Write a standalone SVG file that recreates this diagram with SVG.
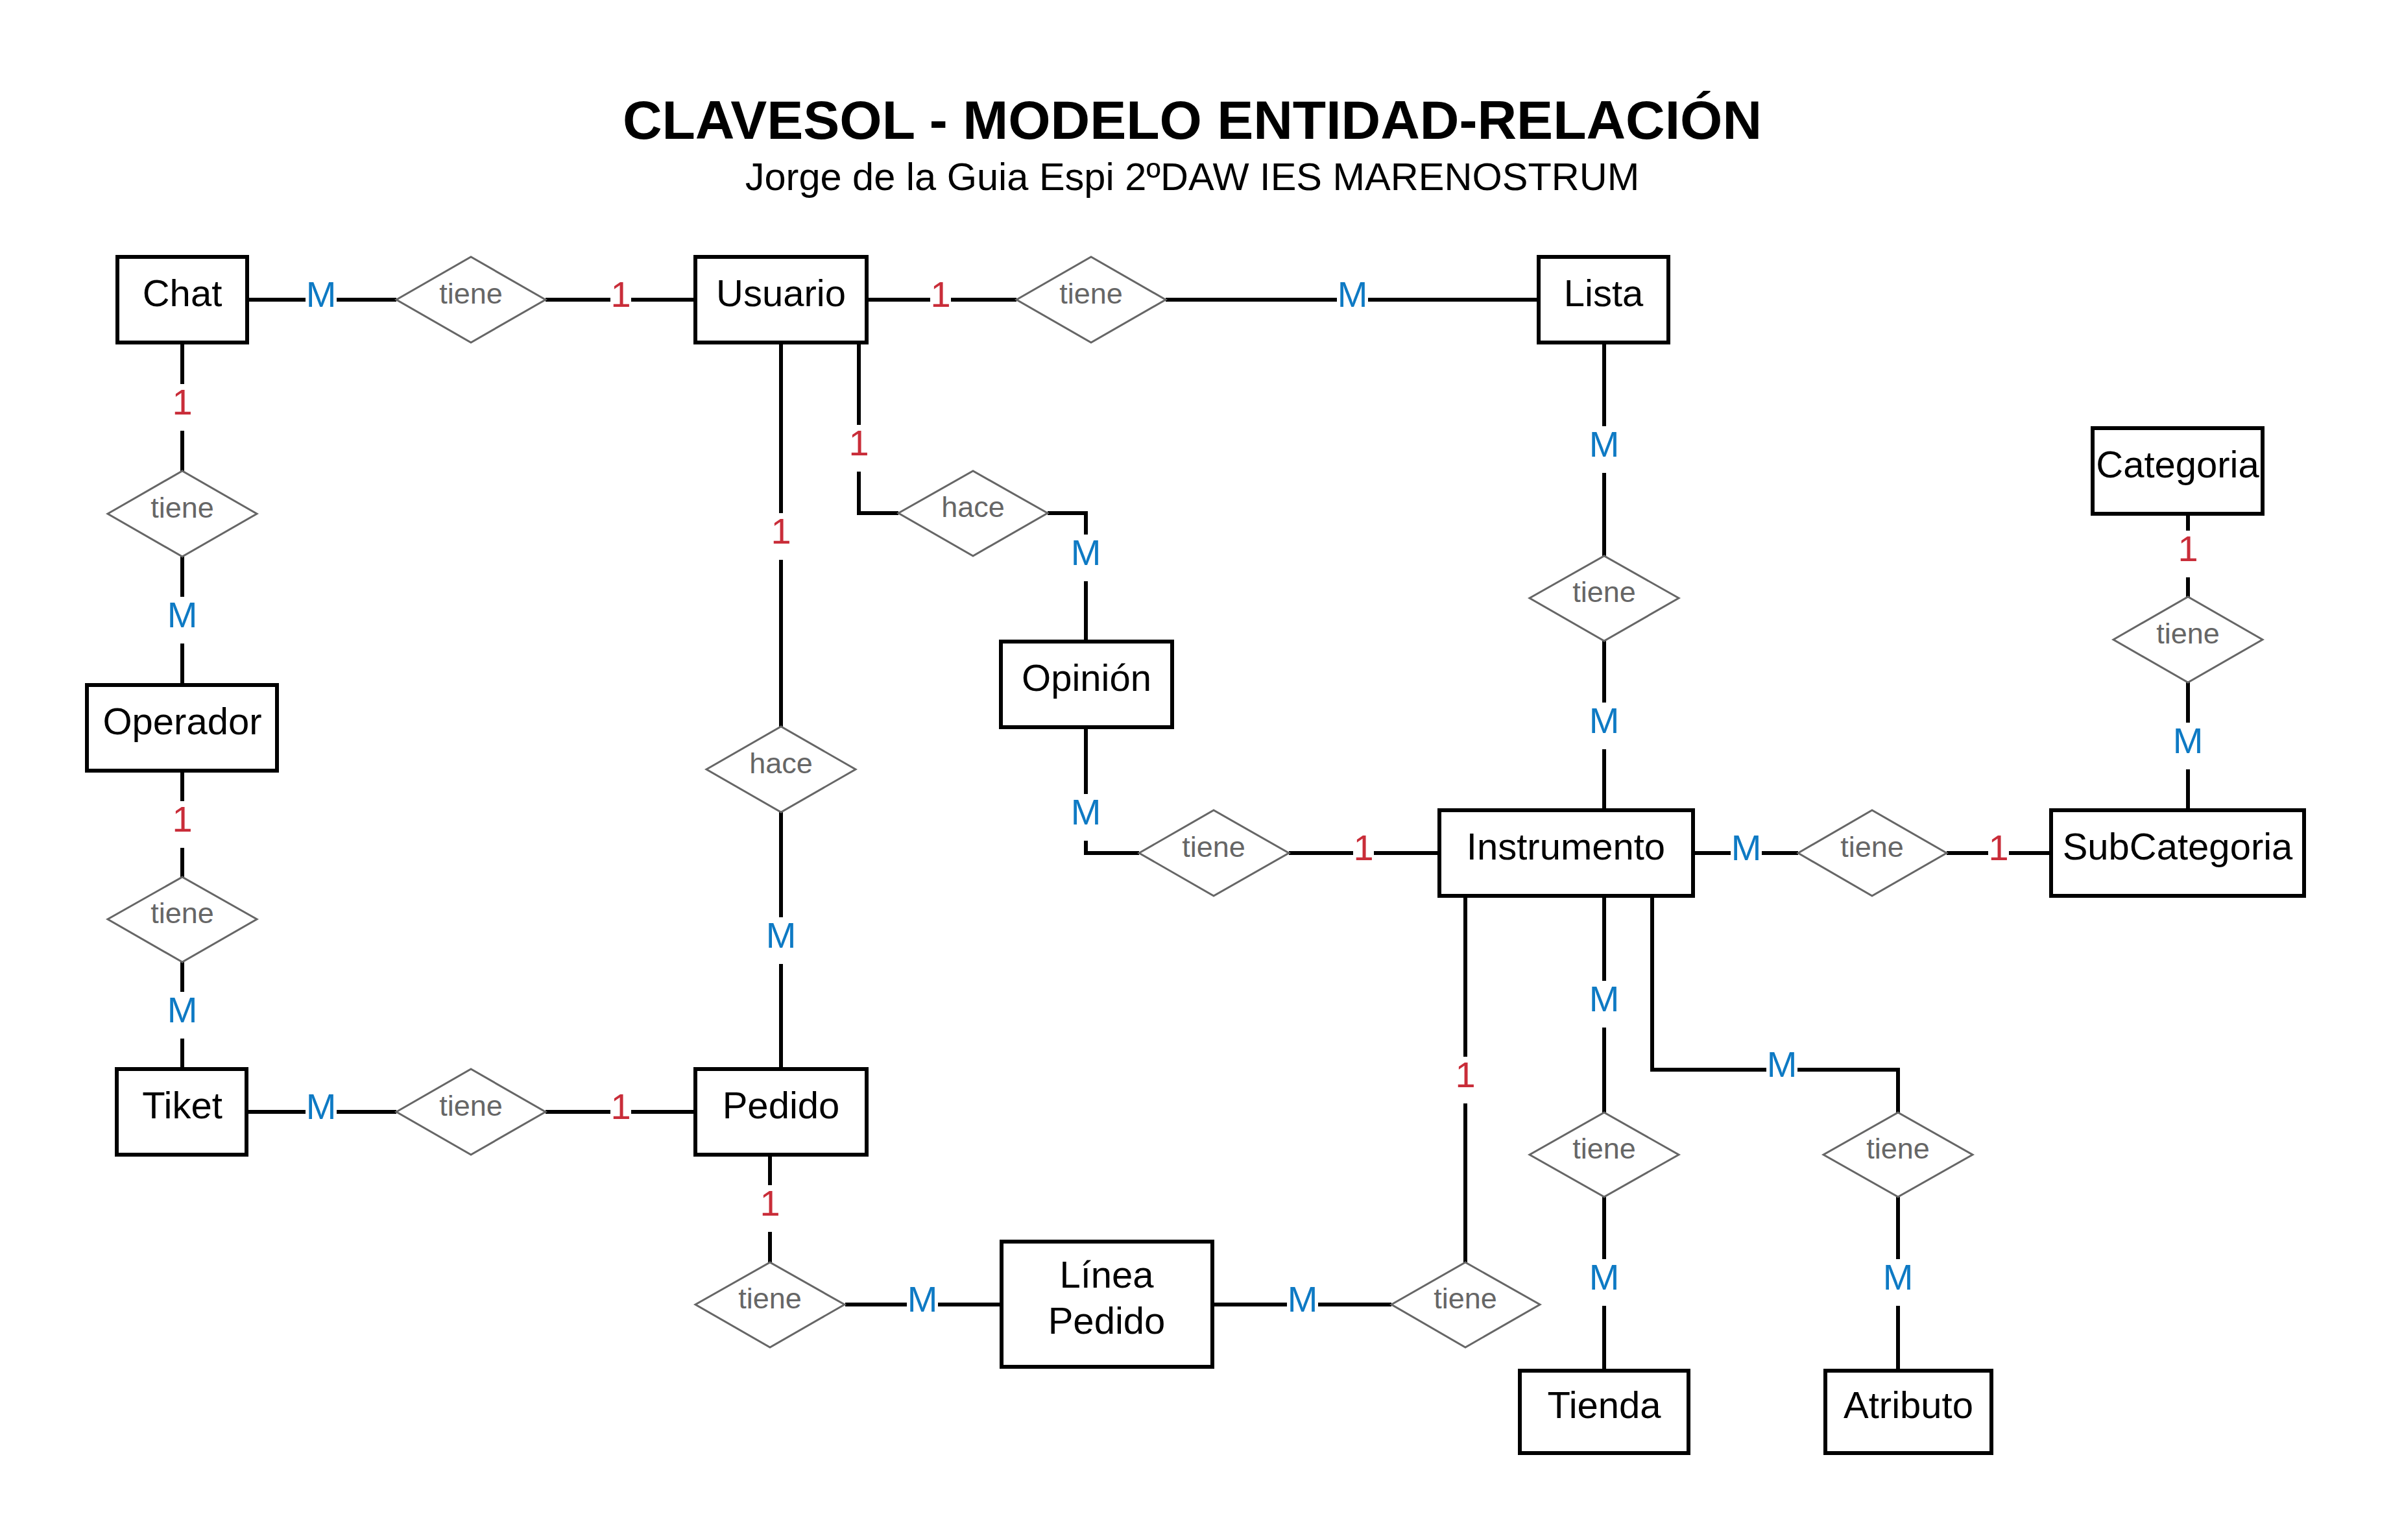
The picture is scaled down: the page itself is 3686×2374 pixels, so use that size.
<svg xmlns="http://www.w3.org/2000/svg" width="3686" height="2374" viewBox="0 0 3686 2374">
<style>
.bg{fill:#ffffff}
.ent{fill:#ffffff;stroke:#000000;stroke-width:6}
.rel{fill:#ffffff;stroke:#666666;stroke-width:3}
.et{font-family:"Liberation Sans",Arial,sans-serif;font-size:58px;fill:#000000;text-anchor:middle}
.rt{font-family:"Liberation Sans",Arial,sans-serif;font-size:45px;fill:#666666;text-anchor:middle}
.ln{fill:none;stroke:#000000;stroke-width:6;stroke-linejoin:miter}
.lb{fill:#ffffff}
.m{font-family:"Liberation Sans",Arial,sans-serif;font-size:56px;fill:#0e7ac4;text-anchor:middle}
.o{font-family:"Liberation Sans",Arial,sans-serif;font-size:56px;fill:#c92d39;text-anchor:middle}
.title{font-family:"Liberation Sans",Arial,sans-serif;font-size:84px;font-weight:bold;fill:#000000;text-anchor:middle}
.sub{font-family:"Liberation Sans",Arial,sans-serif;font-size:59.5px;fill:#000000;text-anchor:middle}
</style>
<rect class="bg" x="0" y="0" width="3686" height="2374"/>
<g id="title">
<text class="title" x="1838" y="214">CLAVESOL - MODELO ENTIDAD-RELACIÓN</text>
<text class="sub" x="1838" y="293">Jorge de la Guia Espi 2ºDAW IES MARENOSTRUM</text>
</g>
<g id="connectors">
<path class="ln" d="M381 462H611"/>
<path class="ln" d="M841 462H1072"/>
<path class="ln" d="M1336 462H1567"/>
<path class="ln" d="M1797 462H2372"/>
<path class="ln" d="M281 528V726"/>
<path class="ln" d="M281 858V1056"/>
<path class="ln" d="M281 1188V1352"/>
<path class="ln" d="M281 1483V1648"/>
<path class="ln" d="M380 1714H611"/>
<path class="ln" d="M841 1714H1072"/>
<path class="ln" d="M1204 528V1120"/>
<path class="ln" d="M1204 1252V1648"/>
<path class="ln" d="M1324 528V791H1385"/>
<path class="ln" d="M1615 791H1674V989"/>
<path class="ln" d="M1674 1121V1315H1756"/>
<path class="ln" d="M1987 1315H2219"/>
<path class="ln" d="M2473 528V857"/>
<path class="ln" d="M2473 988V1249"/>
<path class="ln" d="M3373 792V920"/>
<path class="ln" d="M3373 1052V1249"/>
<path class="ln" d="M2610 1315H2772"/>
<path class="ln" d="M3001 1315H3162"/>
<path class="ln" d="M2473 1381V1715"/>
<path class="ln" d="M2473 1845V2113"/>
<path class="ln" d="M2547 1381V1649H2926V1715"/>
<path class="ln" d="M2926 1845V2113"/>
<path class="ln" d="M2259 1381V1946"/>
<path class="ln" d="M1869 2011H2145"/>
<path class="ln" d="M1187 1780V1946"/>
<path class="ln" d="M1303 2011H1544"/>
<g id="labels">
<rect class="lb" x="471" y="426" width="48" height="72"/><text class="m" x="495" y="473">M</text>
<rect class="lb" x="941" y="426" width="32" height="72"/><text class="o" x="957" y="473">1</text>
<rect class="lb" x="1434" y="426" width="32" height="72"/><text class="o" x="1450" y="473">1</text>
<rect class="lb" x="2061" y="426" width="48" height="72"/><text class="m" x="2085" y="473">M</text>
<rect class="lb" x="265" y="592" width="32" height="72"/><text class="o" x="281" y="639">1</text>
<rect class="lb" x="257" y="920" width="48" height="72"/><text class="m" x="281" y="967">M</text>
<rect class="lb" x="265" y="1235" width="32" height="72"/><text class="o" x="281" y="1282">1</text>
<rect class="lb" x="257" y="1529" width="48" height="72"/><text class="m" x="281" y="1576">M</text>
<rect class="lb" x="471" y="1678" width="48" height="72"/><text class="m" x="495" y="1725">M</text>
<rect class="lb" x="941" y="1678" width="32" height="72"/><text class="o" x="957" y="1725">1</text>
<rect class="lb" x="1188" y="791" width="32" height="72"/><text class="o" x="1204" y="838">1</text>
<rect class="lb" x="1180" y="1414" width="48" height="72"/><text class="m" x="1204" y="1461">M</text>
<rect class="lb" x="1308" y="655" width="32" height="72"/><text class="o" x="1324" y="702">1</text>
<rect class="lb" x="1650" y="824" width="48" height="72"/><text class="m" x="1674" y="871">M</text>
<rect class="lb" x="1650" y="1224" width="48" height="72"/><text class="m" x="1674" y="1271">M</text>
<rect class="lb" x="2086" y="1279" width="32" height="72"/><text class="o" x="2102" y="1326">1</text>
<rect class="lb" x="2449" y="657" width="48" height="72"/><text class="m" x="2473" y="704">M</text>
<rect class="lb" x="2449" y="1083" width="48" height="72"/><text class="m" x="2473" y="1130">M</text>
<rect class="lb" x="3357" y="818" width="32" height="72"/><text class="o" x="3373" y="865">1</text>
<rect class="lb" x="3349" y="1114" width="48" height="72"/><text class="m" x="3373" y="1161">M</text>
<rect class="lb" x="2668" y="1279" width="48" height="72"/><text class="m" x="2692" y="1326">M</text>
<rect class="lb" x="3065" y="1279" width="32" height="72"/><text class="o" x="3081" y="1326">1</text>
<rect class="lb" x="2449" y="1512" width="48" height="72"/><text class="m" x="2473" y="1559">M</text>
<rect class="lb" x="2449" y="1941" width="48" height="72"/><text class="m" x="2473" y="1988">M</text>
<rect class="lb" x="2723" y="1613" width="48" height="72"/><text class="m" x="2747" y="1660">M</text>
<rect class="lb" x="2902" y="1941" width="48" height="72"/><text class="m" x="2926" y="1988">M</text>
<rect class="lb" x="2243" y="1629" width="32" height="72"/><text class="o" x="2259" y="1676">1</text>
<rect class="lb" x="1984" y="1975" width="48" height="72"/><text class="m" x="2008" y="2022">M</text>
<rect class="lb" x="1171" y="1827" width="32" height="72"/><text class="o" x="1187" y="1874">1</text>
<rect class="lb" x="1398" y="1975" width="48" height="72"/><text class="m" x="1422" y="2022">M</text>
</g>
</g>
<g id="node-chat"><rect class="ent" x="181" y="396" width="200" height="132"/><text class="et" x="281" y="472">Chat</text></g>
<g id="node-usuario"><rect class="ent" x="1072" y="396" width="264" height="132"/><text class="et" x="1204" y="472">Usuario</text></g>
<g id="node-lista"><rect class="ent" x="2372" y="396" width="200" height="132"/><text class="et" x="2472" y="472">Lista</text></g>
<g id="node-categoria"><rect class="ent" x="3226" y="660" width="262" height="132"/><text class="et" x="3357" y="736">Categoria</text></g>
<g id="node-operador"><rect class="ent" x="134" y="1056" width="293" height="132"/><text class="et" x="281" y="1132">Operador</text></g>
<g id="node-opinion"><rect class="ent" x="1543" y="989" width="264" height="132"/><text class="et" x="1675" y="1065">Opinión</text></g>
<g id="node-instrumento"><rect class="ent" x="2219" y="1249" width="391" height="132"/><text class="et" x="2414" y="1325">Instrumento</text></g>
<g id="node-subcategoria"><rect class="ent" x="3162" y="1249" width="390" height="132"/><text class="et" x="3357" y="1325">SubCategoria</text></g>
<g id="node-tiket"><rect class="ent" x="180" y="1648" width="200" height="132"/><text class="et" x="281" y="1724">Tiket</text></g>
<g id="node-pedido"><rect class="ent" x="1072" y="1648" width="264" height="132"/><text class="et" x="1204" y="1724">Pedido</text></g>
<g id="node-lineapedido"><rect class="ent" x="1544" y="1914" width="325" height="193"/><text class="et" x="1706" y="1985">Línea</text><text class="et" x="1706" y="2056">Pedido</text></g>
<g id="node-tienda"><rect class="ent" x="2343" y="2113" width="260" height="127"/><text class="et" x="2473" y="2186">Tienda</text></g>
<g id="node-atributo"><rect class="ent" x="2814" y="2113" width="256" height="127"/><text class="et" x="2942" y="2186">Atributo</text></g>
<g id="rel-chat-usuario"><polygon class="rel" points="611,462 726,396 841,462 726,528"/><text class="rt" x="726" y="468">tiene</text></g>
<g id="rel-usuario-lista"><polygon class="rel" points="1567,462 1682,396 1797,462 1682,528"/><text class="rt" x="1682" y="468">tiene</text></g>
<g id="rel-chat-operador"><polygon class="rel" points="166,792 281,726 396,792 281,858"/><text class="rt" x="281" y="798">tiene</text></g>
<g id="rel-operador-tiket"><polygon class="rel" points="166,1417 281,1352 396,1417 281,1483"/><text class="rt" x="281" y="1423">tiene</text></g>
<g id="rel-tiket-pedido"><polygon class="rel" points="611,1714 726,1648 841,1714 726,1780"/><text class="rt" x="726" y="1720">tiene</text></g>
<g id="rel-usuario-pedido"><polygon class="rel" points="1089,1186 1204,1120 1319,1186 1204,1252"/><text class="rt" x="1204" y="1192">hace</text></g>
<g id="rel-usuario-opinion"><polygon class="rel" points="1385,791 1500,726 1615,791 1500,857"/><text class="rt" x="1500" y="797">hace</text></g>
<g id="rel-opinion-instrumento"><polygon class="rel" points="1756,1315 1871,1249 1987,1315 1871,1381"/><text class="rt" x="1871" y="1321">tiene</text></g>
<g id="rel-lista-instrumento"><polygon class="rel" points="2358,922 2473,857 2588,922 2473,988"/><text class="rt" x="2473" y="928">tiene</text></g>
<g id="rel-categoria-subcategoria"><polygon class="rel" points="3258,986 3373,920 3488,986 3373,1052"/><text class="rt" x="3373" y="992">tiene</text></g>
<g id="rel-instrumento-subcategoria"><polygon class="rel" points="2772,1315 2886,1249 3001,1315 2886,1381"/><text class="rt" x="2886" y="1321">tiene</text></g>
<g id="rel-instrumento-tienda"><polygon class="rel" points="2358,1780 2473,1715 2588,1780 2473,1845"/><text class="rt" x="2473" y="1786">tiene</text></g>
<g id="rel-instrumento-atributo"><polygon class="rel" points="2811,1780 2926,1715 3041,1780 2926,1845"/><text class="rt" x="2926" y="1786">tiene</text></g>
<g id="rel-instrumento-lineapedido"><polygon class="rel" points="2145,2011 2259,1946 2374,2011 2259,2077"/><text class="rt" x="2259" y="2017">tiene</text></g>
<g id="rel-pedido-lineapedido"><polygon class="rel" points="1072,2011 1187,1946 1302,2011 1187,2077"/><text class="rt" x="1187" y="2017">tiene</text></g>
</svg>
